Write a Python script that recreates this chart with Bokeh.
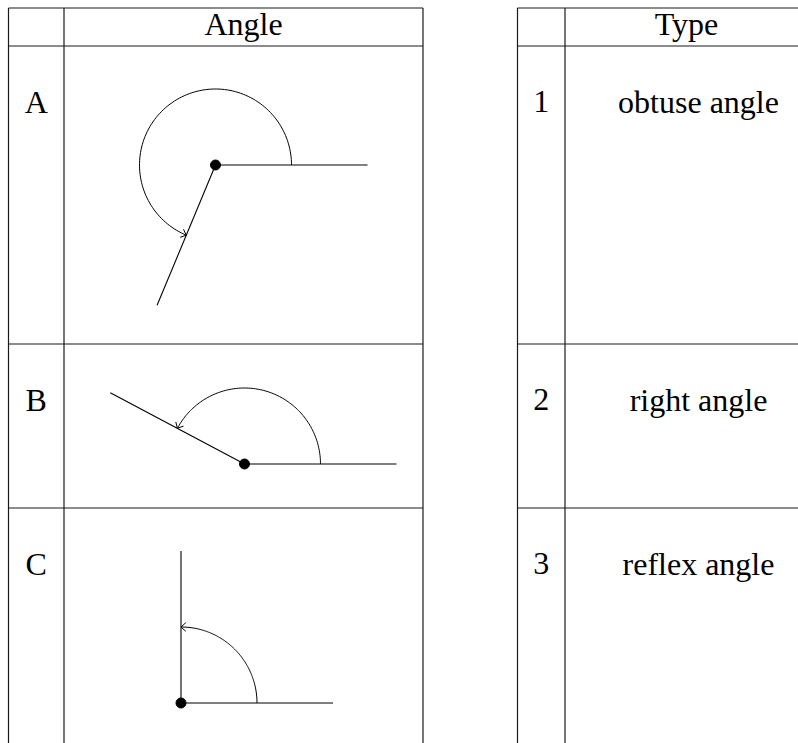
import numpy as np
from bokeh.plotting import figure
from bokeh.models import Range1d
from bokeh.core.properties import value
from bokeh.embed import file_html
from bokeh.resources import INLINE

# ---- data -------------------------------------------------------------
headers = ["Angle", "Type"]
row_labels = ["A", "B", "C"]
angle_degrees = [247.4, 152.0, 90.0]          # measure of each drawn angle
type_numbers = ["1", "2", "3"]
type_names = ["obtuse angle", "right angle", "reflex angle"]

# ---- layout (pixels of the picture) -------------------------------------
W, H = 798, 743
FONT = value("Liberation Serif")
FS = "32px"
LINE_C = "#1a1a1a"

y_top = 7.5
y_head = 45.5
row_tops = [45.5, 343.5, 507.5]
y_bottom = 780
left_cols = [8.0, 63.5, 422.5]
right_cols = [517.0, 564.5]
right_end = 840

vertices = [(215, 164.5), (244, 463.5), (180.5, 702.5)]
arc_r = 76
ray_len = 152

p = figure(width=W, height=H,
           x_range=Range1d(0, W), y_range=Range1d(H, 0),
           output_backend="svg", toolbar_location=None,
           x_axis_type=None, y_axis_type=None,
           min_border=0, outline_line_color=None,
           background_fill_color="white", border_fill_color="white")
p.grid.visible = False

# ---- table rules --------------------------------------------------------
hy = [y_top, y_head, row_tops[1], row_tops[2]]
p.segment(x0=[left_cols[0]] * 4, x1=[left_cols[-1]] * 4, y0=hy, y1=hy,
          line_color=LINE_C, line_width=1.2)
p.segment(x0=left_cols, x1=left_cols, y0=[y_top] * 3, y1=[y_bottom] * 3,
          line_color=LINE_C, line_width=1.2)
p.segment(x0=[right_cols[0]] * 4, x1=[right_end] * 4, y0=hy, y1=hy,
          line_color=LINE_C, line_width=1.2)
p.segment(x0=right_cols, x1=right_cols, y0=[y_top] * 2, y1=[y_bottom] * 2,
          line_color=LINE_C, line_width=1.2)

# ---- texts --------------------------------------------------------------
base_off = 55.5
p.text(x=[(left_cols[1] + left_cols[2]) / 2, 686], y=[23, 23], text=headers,
       text_font=FONT, text_font_size=FS, text_align="center",
       text_baseline="alphabetic", text_color="black")
lab_y = [t + base_off for t in row_tops]
p.text(x=[(left_cols[0] + left_cols[1]) / 2] * 3, y=lab_y, text=row_labels,
       text_font=FONT, text_font_size=FS, text_align="center",
       text_baseline="alphabetic", text_color="black")
p.text(x=[(right_cols[0] + right_cols[1]) / 2] * 3, y=lab_y, text=type_numbers,
       text_font=FONT, text_font_size=FS, text_align="center",
       text_baseline="alphabetic", text_color="black")
p.text(x=[698] * 3, y=lab_y, text=type_names,
       text_font=FONT, text_font_size=FS, text_align="center",
       text_baseline="alphabetic", text_color="black")

# ---- angle drawings -----------------------------------------------------
rx0, ry0, rx1, ry1 = [], [], [], []
arcs_x, arcs_y = [], []
for (vx, vy), deg in zip(vertices, angle_degrees):
    th = np.radians(deg)
    # base ray
    rx0.append(vx); ry0.append(vy); rx1.append(vx + ray_len); ry1.append(vy)
    # second ray
    rx0.append(vx); ry0.append(vy)
    rx1.append(vx + ray_len * np.cos(th)); ry1.append(vy - ray_len * np.sin(th))
    # arc
    t = np.linspace(0, th, 120)
    arcs_x.append(list(vx + arc_r * np.cos(t)))
    arcs_y.append(list(vy - arc_r * np.sin(t)))
    # arrow head (open chevron)
    ex, ey = vx + arc_r * np.cos(th), vy - arc_r * np.sin(th)
    bx, by = np.sin(th), np.cos(th)  # backward tangent in page coords
    for s in (1, -1):
        a = np.radians(42) * s
        wx = bx * np.cos(a) - by * np.sin(a)
        wy = bx * np.sin(a) + by * np.cos(a)
        arcs_x.append([ex + 6.5 * wx, ex])
        arcs_y.append([ey + 6.5 * wy, ey])

p.segment(x0=rx0, y0=ry0, x1=rx1, y1=ry1, line_color="black", line_width=1.1)
p.multi_line(xs=arcs_x, ys=arcs_y, line_color="black", line_width=1.0)
p.scatter(x=[v[0] for v in vertices], y=[v[1] for v in vertices], size=10,
          fill_color="black", line_color="black")

open("out.html", "w").write(file_html(p, INLINE))
